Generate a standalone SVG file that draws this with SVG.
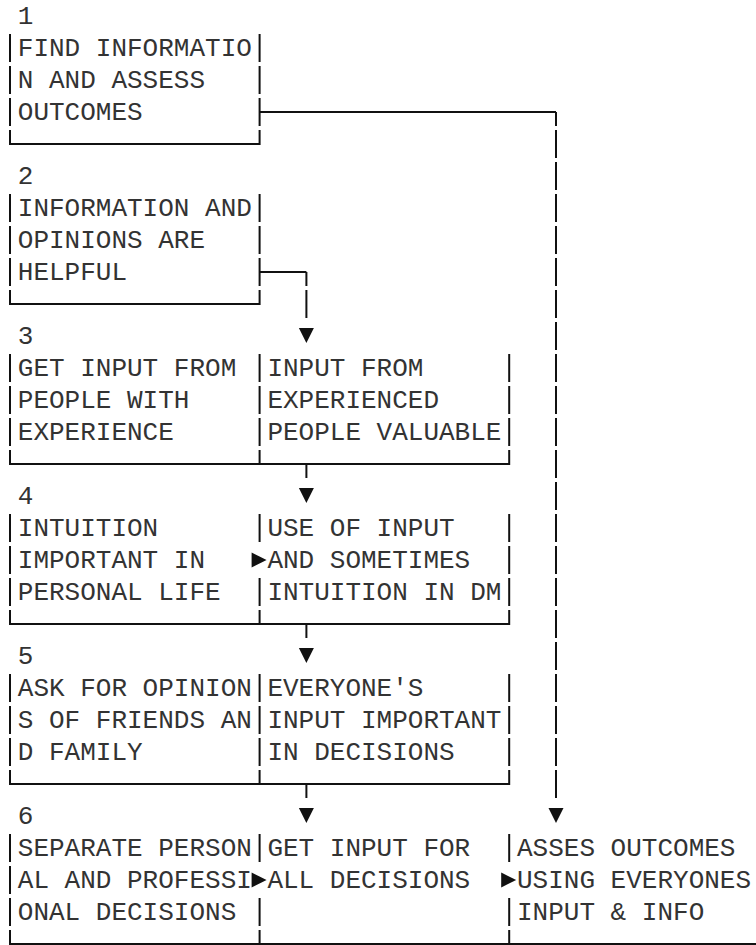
<svg xmlns="http://www.w3.org/2000/svg" width="756" height="945" viewBox="0 0 756 945">
  <style>
    .t { font-family: "Liberation Mono", "Courier New", monospace; font-size: 26px; fill: #333; }
    .b { fill: none; stroke: #111; stroke-width: 2; }
    .v { fill: none; stroke: #111; stroke-width: 2; stroke-dasharray: 28 4; stroke-dashoffset: 14; }
    .a { fill: #111; }
  </style>
  <defs>
    <path id="down" d="M-7.5 -8H7.5L0 7Z"/>
    <path id="right" d="M-8 -7.5V7.5L7 0Z"/>
  </defs>
  <rect width="756" height="945" fill="#fff"/>

  <!-- column grid: x = 10 + 15.6 * col (glyph centre); rows are 32px tall -->

  <g id="node1">
    <path class="b" d="M10 34V62M10 66V94M10 98V126M10 130V144H259.6V130M259.6 126V98M259.6 94V66M259.6 62V34"/>
    <text class="t" x="17.8" y="24">1</text>
    <text class="t" x="17.8" y="56">FIND INFORMATIO</text>
    <text class="t" x="17.8" y="88">N AND ASSESS</text>
    <text class="t" x="17.8" y="120">OUTCOMES</text>
  </g>

  <g id="node2">
    <path class="b" d="M10 194V222M10 226V254M10 258V286M10 290V304H259.6V290M259.6 286V258M259.6 254V226M259.6 222V194"/>
    <text class="t" x="17.8" y="184">2</text>
    <text class="t" x="17.8" y="216">INFORMATION AND</text>
    <text class="t" x="17.8" y="248">OPINIONS ARE</text>
    <text class="t" x="17.8" y="280">HELPFUL</text>
  </g>

  <g id="node3a">
    <path class="b" d="M10 354V382M10 386V414M10 418V446M10 450V464H259.6V450M259.6 446V418M259.6 414V386M259.6 382V354"/>
    <text class="t" x="17.8" y="344">3</text>
    <text class="t" x="17.8" y="376">GET INPUT FROM</text>
    <text class="t" x="17.8" y="408">PEOPLE WITH</text>
    <text class="t" x="17.8" y="440">EXPERIENCE</text>
  </g>
  <g id="node3b">
    <path class="b" d="M259.6 464H509.2V450M509.2 446V418M509.2 414V386M509.2 382V354"/>
    <text class="t" x="267.4" y="376">INPUT FROM</text>
    <text class="t" x="267.4" y="408">EXPERIENCED</text>
    <text class="t" x="267.4" y="440">PEOPLE VALUABLE</text>
  </g>

  <g id="node4a">
    <path class="b" d="M10 514V542M10 546V574M10 578V606M10 610V624H259.6V610M259.6 606V578M259.6 542V514"/>
    <text class="t" x="17.8" y="504">4</text>
    <text class="t" x="17.8" y="536">INTUITION</text>
    <text class="t" x="17.8" y="568">IMPORTANT IN</text>
    <text class="t" x="17.8" y="600">PERSONAL LIFE</text>
  </g>
  <g id="node4b">
    <path class="b" d="M259.6 624H509.2V610M509.2 606V578M509.2 574V546M509.2 542V514"/>
    <text class="t" x="267.4" y="536">USE OF INPUT</text>
    <text class="t" x="267.4" y="568">AND SOMETIMES</text>
    <text class="t" x="267.4" y="600">INTUITION IN DM</text>
  </g>

  <g id="node5a">
    <path class="b" d="M10 674V702M10 706V734M10 738V766M10 770V784H259.6V770M259.6 766V738M259.6 734V706M259.6 702V674"/>
    <text class="t" x="17.8" y="664">5</text>
    <text class="t" x="17.8" y="696">ASK FOR OPINION</text>
    <text class="t" x="17.8" y="728">S OF FRIENDS AN</text>
    <text class="t" x="17.8" y="760">D FAMILY</text>
  </g>
  <g id="node5b">
    <path class="b" d="M259.6 784H509.2V770M509.2 766V738M509.2 734V706M509.2 702V674"/>
    <text class="t" x="267.4" y="696">EVERYONE'S</text>
    <text class="t" x="267.4" y="728">INPUT IMPORTANT</text>
    <text class="t" x="267.4" y="760">IN DECISIONS</text>
  </g>

  <g id="node6a">
    <path class="b" d="M10 834V862M10 866V894M10 898V926M10 930V944H259.6V930M259.6 926V898M259.6 862V834"/>
    <text class="t" x="17.8" y="824">6</text>
    <text class="t" x="17.8" y="856">SEPARATE PERSON</text>
    <text class="t" x="17.8" y="888">AL AND PROFESSI</text>
    <text class="t" x="17.8" y="920">ONAL DECISIONS</text>
  </g>
  <g id="node6b">
    <path class="b" d="M259.6 944H509.2V930M509.2 926V898M509.2 862V834"/>
    <text class="t" x="267.4" y="856">GET INPUT FOR</text>
    <text class="t" x="267.4" y="888">ALL DECISIONS</text>
  </g>
  <g id="node6c">
    <path class="b" d="M509.2 944H756"/>
    <text class="t" x="517" y="856">ASSES OUTCOMES</text>
    <text class="t" x="517" y="888">USING EVERYONES</text>
    <text class="t" x="517" y="920">INPUT &amp; INFO</text>
  </g>

  <g id="connectors">
    <!-- 1 to 6c: long run down the right side -->
    <path class="b" d="M259.6 112H556"/>
    <path class="v" d="M556 112V798"/>
    <use href="#down" x="556" y="816" class="a"/>
    <!-- 2 to 3b -->
    <path class="b" d="M259.6 272H306.4"/>
    <path class="v" d="M306.4 272V318"/>
    <use href="#down" x="306.4" y="336" class="a"/>
    <!-- 3 to 4b -->
    <path class="b" d="M306.4 464V478"/>
    <use href="#down" x="306.4" y="496" class="a"/>
    <!-- 4 to 5b -->
    <path class="b" d="M306.4 624V638"/>
    <use href="#down" x="306.4" y="656" class="a"/>
    <!-- 5 to 6b -->
    <path class="b" d="M306.4 784V798"/>
    <use href="#down" x="306.4" y="816" class="a"/>
    <!-- side arrows between neighbouring boxes -->
    <use href="#right" x="259.6" y="560" class="a"/>
    <use href="#right" x="259.6" y="880" class="a"/>
    <use href="#right" x="509.2" y="880" class="a"/>
  </g>
</svg>
